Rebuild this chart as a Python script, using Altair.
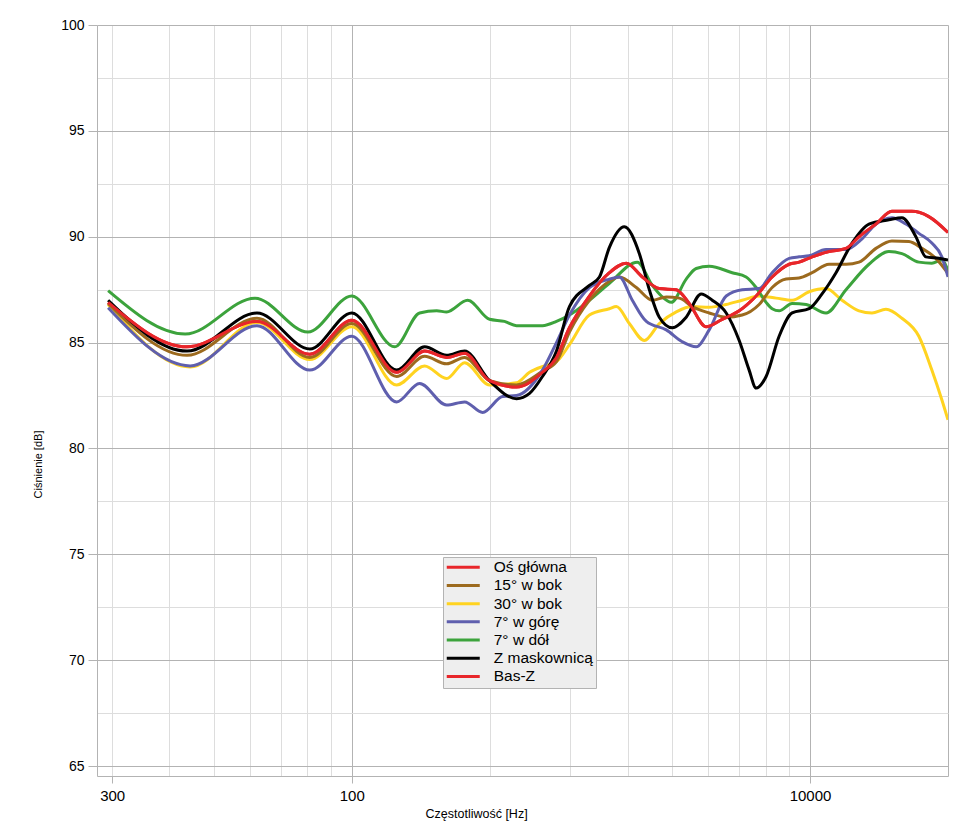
import altair as alt
import pandas as pd

series_names = ["Oś główna", "15° w bok", "30° w bok", "7° w górę", "7° w dół", "Z maskownicą", "Bas-Z"]
series_colors = ["#e8262a", "#9c6a1e", "#ffd320", "#5f5fae", "#3ca33c", "#000000", "#e8262a"]

# Oś główna (red)
os_f = [294, 437, 621, 810, 1000, 1253, 1442, 1610, 1763, 1998, 2288, 2607, 2797, 2985, 3300, 3649,
        3973, 4306, 4689, 5106, 5449, 5934, 6431, 7005, 7627, 8266, 9003, 9466, 10105, 11000, 11981,
        12790, 13925, 15089, 16682, 18164, 20000]
os_db = [86.9, 84.8, 86.0, 84.45, 86.05, 83.6, 84.6, 84.3, 84.5, 83.2, 82.9, 83.6, 84.3, 85.7, 87.2, 88.3,
         88.75, 88.1, 87.55, 87.5, 86.85, 85.75, 86.1, 86.5, 87.2, 88.1, 88.7, 88.8, 89.05, 89.3, 89.45,
         90.0, 90.6, 91.2, 91.2, 90.95, 90.2]

# 15° w bok (brown)
b15_f = [294, 437, 621, 810, 1000, 1253, 1442, 1610, 1763, 1998, 2288, 2607, 2797, 2985, 3300, 3649,
         3836, 4178, 4527, 4857, 5184, 5532, 6024, 6562, 7110, 7743, 8266, 8868, 9466, 10105, 11000,
         11981, 12790, 13925, 15089, 16433, 17540, 18813, 20000]
b15_db = [86.85, 84.4, 86.15, 84.3, 85.9, 83.4, 84.35, 84.0, 84.3, 83.2, 83.0, 83.65, 84.1, 85.5, 87.0, 87.9,
          88.1, 87.6, 87.0, 87.15, 87.1, 86.7, 86.4, 86.2, 86.3, 86.8, 87.6, 88.0, 88.05, 88.3, 88.7,
          88.7, 88.8, 89.45, 89.8, 89.77, 89.45, 88.98, 88.27]

# 30° w bok (yellow)
b30_f = [294, 444, 621, 810, 1000, 1253, 1442, 1610, 1763, 1998, 2288, 2443, 2633, 2797, 2985, 3300,
         3649, 3779, 4033, 4350, 4689, 5106, 5532, 6024, 6562, 7110, 7743, 8433, 9139, 9953, 10836,
         11742, 12790, 13651, 14642, 15865, 17276, 18441, 19389, 20000]
b30_db = [86.8, 83.85, 85.95, 84.2, 85.75, 83.0, 83.9, 83.3, 84.05, 83.0, 83.1, 83.6, 83.9, 84.1, 84.9, 86.3,
          86.6, 86.7, 85.9, 85.1, 85.9, 86.45, 86.7, 86.67, 86.8, 87.0, 87.2, 87.1, 87.0, 87.4, 87.55,
          87.0, 86.5, 86.4, 86.57, 86.15, 85.3, 83.7, 82.3, 81.35]

# 7° w górę (purple)
g7_f = [294, 444, 621, 810, 1000, 1253, 1406, 1610, 1763, 1930, 2133, 2288, 2607, 2797, 2985, 3300,
        3649, 3836, 4094, 4393, 4857, 5262, 5644, 6024, 6562, 7110, 7743, 8266, 9003, 9466, 9953,
        10836, 11981, 12984, 13925, 15089, 16187, 17276, 18441, 19389, 20000]
g7_db = [86.65, 83.9, 85.8, 83.7, 85.3, 82.2, 83.07, 82.05, 82.2, 81.7, 82.45, 82.5, 83.7, 85.0, 86.3, 87.6,
         88.0, 88.1, 87.0, 86.0, 85.6, 85.04, 84.8, 85.6, 87.2, 87.5, 87.55, 88.3, 88.98, 89.05, 89.1,
         89.4, 89.4, 89.9, 90.6, 90.9, 90.6, 90.16, 89.7, 89.05, 88.1]

# 7° w dół (green)
d7_f = [294, 433, 615, 802, 1000, 1241, 1406, 1532, 1610, 1790, 1998, 2154, 2288, 2607, 2797, 2985,
        3300, 3649, 4199, 4527, 4737, 4980, 5367, 5644, 6024, 6763, 7252, 7627, 8020, 8266, 8561,
        9139, 9805, 10836, 11981, 13446, 14864, 15865, 17276, 18441, 19389, 20000]
d7_db = [87.45, 85.4, 87.1, 85.5, 87.2, 84.8, 86.4, 86.5, 86.45, 87.0, 86.1, 86.0, 85.8, 85.8, 86.0, 86.3,
         87.0, 87.8, 88.8, 87.7, 87.2, 86.9, 88.0, 88.5, 88.6, 88.3, 88.1, 87.6, 86.9, 86.6, 86.5,
         86.85, 86.8, 86.4, 87.5, 88.7, 89.3, 89.2, 88.8, 88.75, 88.9, 88.4]

# Z maskownicą (black)
zm_f = [294, 437, 621, 810, 1000, 1253, 1442, 1610, 1763, 1998, 2288, 2443, 2607, 2797, 2985, 3300,
        3471, 3649, 3933, 4242, 4459, 4689, 5005, 5367, 5787, 6117, 6562, 7005, 7364, 7627, 8020,
        8561, 9139, 9953, 10621, 11394, 12349, 13446, 14864, 15865, 17019, 17894, 19100, 20000]
zm_db = [87.0, 84.6, 86.4, 84.7, 86.4, 83.7, 84.8, 84.4, 84.6, 83.2, 82.35, 82.6, 83.4, 84.6, 86.7, 87.7,
         88.1, 89.5, 90.47, 89.2, 87.5, 86.2, 85.7, 86.2, 87.3, 87.0, 86.4, 85.1, 83.7, 82.85, 83.4,
         85.3, 86.4, 86.6, 87.3, 88.3, 89.7, 90.6, 90.8, 90.9, 90.0, 89.05, 88.98, 88.9]

# Bas-Z (red, overlapping the main axis curve)
bz_f = list(os_f)
bz_db = list(os_db)

freq_lists = [os_f, b15_f, b30_f, g7_f, d7_f, zm_f, bz_f]
db_lists = [os_db, b15_db, b30_db, g7_db, d7_db, zm_db, bz_db]

rows = []
for name, fl, dl in zip(series_names, freq_lists, db_lists):
    for f, d in zip(fl, dl):
        rows.append({"series": name, "freq": f, "db": d})
df = pd.DataFrame(rows)

x_grid_values = [300, 400, 500, 600, 700, 800, 900, 1000, 2000, 3000, 4000, 5000, 6000, 7000, 8000,
                 9000, 10000, 20000]
y_grid_values = [65, 67.5, 70, 72.5, 75, 77.5, 80, 82.5, 85, 87.5, 90, 92.5, 95, 97.5, 100]

color_scale = alt.Scale(domain=series_names, range=series_colors)

x_enc = alt.X(
    "freq:Q",
    scale=alt.Scale(type="log", domain=[278, 20000], nice=False),
    axis=alt.Axis(
        values=x_grid_values,
        title="Częstotliwość [Hz]",
        titleFont="Liberation Sans", titleFontSize=12.5, titleFontWeight="normal", titleColor="#000",
        titleX=328, titleY=41, titleAnchor="start", titleAlign="left", titleBaseline="alphabetic",
        labelExpr="datum.value == 300 ? '300' : datum.value == 1000 ? '100' : datum.value == 10000 ? '10000' : ''",
        labelFont="Liberation Sans", labelFontSize=15, labelColor="#000", labelPadding=5,
        labelOverlap=False, labelFlush=False,
        tickSize=7,
        tickColor={"condition": {"test": "datum.value == 300 || datum.value == 1000 || datum.value == 10000",
                                 "value": "#b3b3b3"}, "value": "rgba(0,0,0,0)"},
        gridColor={"condition": {"test": "datum.value == 1000 || datum.value == 10000 || datum.value == 20000",
                                 "value": "#b3b3b3"}, "value": "#dddddd"},
        gridWidth=1,
        domainColor="#b3b3b3",
    ),
)
y_enc = alt.Y(
    "db:Q",
    scale=alt.Scale(domain=[64.53, 100], nice=False, zero=False),
    axis=alt.Axis(
        values=y_grid_values,
        title="Ciśnienie [dB]",
        titleFont="Liberation Sans", titleFontSize=11, titleFontWeight="normal", titleColor="#000",
        titleX=-59, titleY=439, titleAngle=-90, titleAlign="center", titleBaseline="middle",
        labelExpr="datum.value % 5 === 0 ? datum.label : ''",
        labelFont="Liberation Sans", labelFontSize=14, labelColor="#000", labelPadding=4,
        tickSize=9,
        tickColor={"condition": {"test": "datum.value % 5 === 0", "value": "#b3b3b3"},
                   "value": "rgba(0,0,0,0)"},
        gridColor={"condition": {"test": "datum.value % 5 === 0", "value": "#b3b3b3"},
                   "value": "#dddddd"},
        gridWidth=1,
        domainColor="#b3b3b3",
    ),
)

draw_order = ["Bas-Z", "30° w bok", "7° w dół", "15° w bok", "7° w górę", "Z maskownicą", "Oś główna"]

legend = alt.Legend(
    title=None, orient="none", legendX=346, legendY=532,
    fillColor="#eeeeee", strokeColor="#b3b3b3", padding=2.5,
    symbolType="M-2.75,0H2.75", symbolStrokeWidth=3, symbolSize=144,
    symbolOffset=10,
    labelFont="Liberation Sans", labelFontSize=15.5, labelColor="#000",
    labelOffset=22.75, rowPadding=1.2,
)

layers = []
for name in draw_order:
    layers.append(
        alt.Chart(df)
        .transform_filter(alt.datum.series == name)
        .mark_line(strokeWidth=3, interpolate="monotone", clip=True)
        .encode(
            x=x_enc,
            y=y_enc,
            color=alt.Color("series:N", scale=color_scale, legend=legend),
        )
    )

chart = (
    alt.layer(*layers)
    .properties(
        width=851, height=751,
        autosize=alt.AutoSizeParams(type="none"),
        padding={"left": 89, "top": 17, "right": 10, "bottom": 45},
        background="#ffffff",
    )
    .configure_view(stroke=None)
)

chart.save("out.html", embed_options={"renderer": "svg", "actions": False})
